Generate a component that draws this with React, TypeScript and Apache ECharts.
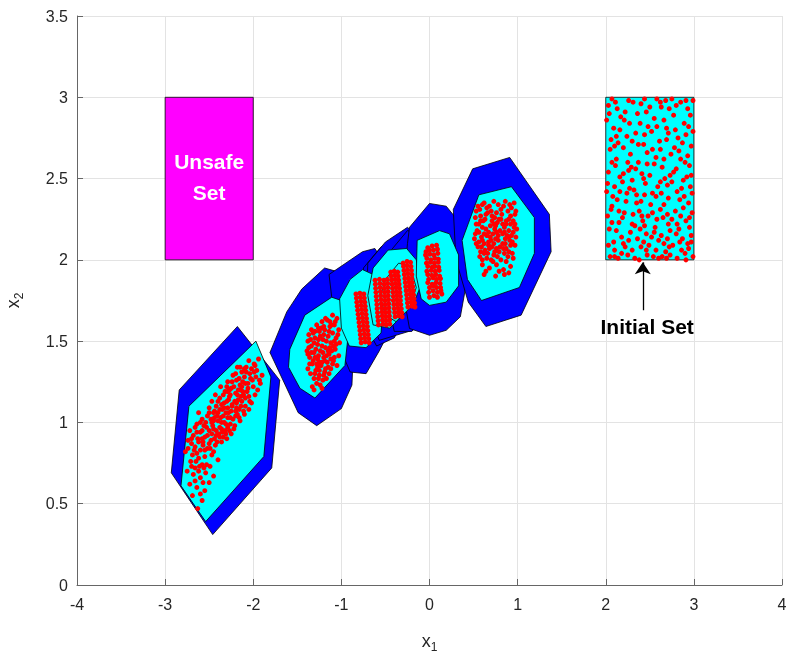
import React, { useEffect, useRef } from 'react';
import * as echarts from 'echarts';

// Sets (polygon vertices in data units)
const unsafeSet = [[-3, 2], [-2, 2], [-2, 3], [-3, 3]];
const initialSet = [[2, 2], [3, 2], [3, 3], [2, 3]];

const outerSets = [
  [[-2.18, 1.59], [-1.7, 1.26], [-1.79, 0.72], [-2.46, 0.31], [-2.93, 0.69], [-2.84, 1.2]],
  [[-1.45, 1.82], [-1.19, 1.95], [-1.0, 1.92], [-0.85, 1.62], [-0.88, 1.23], [-1.0, 1.085], [-1.28, 0.98], [-1.49, 1.06], [-1.81, 1.43], [-1.62, 1.68]],
  [[-1.14, 1.91], [-0.76, 2.05], [-0.62, 2.07], [-0.42, 1.9], [-0.4, 1.62], [-0.57, 1.44], [-0.72, 1.3], [-0.9, 1.31], [-1.05, 1.5]],
  [[-0.75, 1.95], [-0.55, 2.08], [-0.4, 2.1], [-0.25, 1.95], [-0.22, 1.7], [-0.4, 1.52], [-0.6, 1.47], [-0.75, 1.62]],
  [[-0.7, 1.98], [-0.5, 2.11], [-0.25, 2.2], [-0.05, 2.1], [0.02, 1.85], [-0.1, 1.62], [-0.19, 1.567], [-0.38, 1.536], [-0.57, 1.505], [-0.72, 1.7]],
  [[-0.45, 2.05], [-0.25, 2.18], [-0.05, 2.15], [0.05, 1.95], [0.0, 1.68], [-0.2, 1.56], [-0.4, 1.56], [-0.5, 1.8]],
  [[-0.25, 2.1], [-0.227, 2.2], [0.0, 2.347], [0.19, 2.33], [0.34, 2.23], [0.45, 1.95], [0.35, 1.65], [0.19, 1.567], [0.0, 1.536], [-0.227, 1.578], [-0.3, 1.8]],
  [[0.27, 2.31], [0.49, 2.56], [0.91, 2.63], [1.36, 2.28], [1.38, 2.05], [1.04, 1.66], [0.64, 1.59], [0.44, 1.74], [0.3, 2.0]],
];

const innerSets = [
  [[-1.97, 1.5], [-1.8, 1.28], [-1.88, 0.79], [-2.54, 0.39], [-2.82, 0.61], [-2.73, 1.1]],
  [[-1.415, 1.66], [-1.11, 1.77], [-1.0, 1.75], [-0.92, 1.55], [-0.96, 1.35], [-1.3, 1.15], [-1.47, 1.21], [-1.6, 1.34], [-1.585, 1.45]],
  [[-1.02, 1.76], [-0.9, 1.88], [-0.76, 1.94], [-0.6, 1.9], [-0.52, 1.75], [-0.55, 1.55], [-0.72, 1.46], [-0.91, 1.47], [-1.0, 1.58]],
  [[-0.64, 1.95], [-0.47, 2.06], [-0.26, 2.07], [-0.15, 2.0], [-0.1, 1.84], [-0.19, 1.72], [-0.45, 1.58], [-0.64, 1.6], [-0.7, 1.78]],
  [[-0.5, 1.88], [-0.35, 1.98], [-0.22, 1.96], [-0.15, 1.83], [-0.23, 1.7], [-0.38, 1.62], [-0.5, 1.66], [-0.56, 1.77]],
  [[-0.14, 2.12], [0.114, 2.18], [0.227, 2.16], [0.33, 2.03], [0.33, 1.84], [0.19, 1.74], [0.0, 1.72], [-0.094, 1.76], [-0.15, 1.9]],
  [[0.56, 2.4], [0.93, 2.45], [1.19, 2.26], [1.19, 2.04], [1.02, 1.83], [0.59, 1.75], [0.43, 1.88], [0.37, 2.12]],
];

// Sampled points
const initialSetPoints = [
  [2.03, 2.95], [2.17, 2.88], [2.31, 2.97], [2.46, 2.91], [2.58, 2.99], [2.72, 2.93], [2.85, 2.97], [2.96, 2.89], [2.09, 2.81], [2.24, 2.76],
  [2.39, 2.84], [2.52, 2.79], [2.66, 2.86], [2.79, 2.8], [2.91, 2.77], [2.05, 2.68], [2.14, 2.72], [2.28, 2.65], [2.43, 2.71], [2.57, 2.63],
  [2.69, 2.74], [2.83, 2.67], [2.97, 2.7], [2.11, 2.58], [2.26, 2.55], [2.37, 2.6], [2.5, 2.52], [2.64, 2.57], [2.77, 2.54], [2.9, 2.6],
  [2.02, 2.47], [2.16, 2.42], [2.3, 2.49], [2.44, 2.4], [2.59, 2.45], [2.71, 2.38], [2.86, 2.44], [2.98, 2.41], [2.07, 2.33], [2.21, 2.29],
  [2.35, 2.35], [2.48, 2.27], [2.62, 2.31], [2.75, 2.25], [2.88, 2.32], [2.04, 2.19], [2.18, 2.14], [2.33, 2.21], [2.46, 2.16], [2.6, 2.12],
  [2.73, 2.18], [2.87, 2.13], [2.95, 2.2], [2.1, 2.06], [2.25, 2.03], [2.4, 2.08], [2.54, 2.02], [2.68, 2.05], [2.81, 2.01], [2.94, 2.07],
  [2.01, 2.86], [2.13, 2.93], [2.27, 2.84], [2.4, 2.96], [2.55, 2.87], [2.63, 2.94], [2.77, 2.89], [2.89, 2.84], [2.99, 2.98], [2.06, 2.74],
  [2.2, 2.69], [2.34, 2.78], [2.47, 2.66], [2.61, 2.73], [2.74, 2.65], [2.82, 2.75], [2.93, 2.64], [2.12, 2.62], [2.29, 2.57], [2.41, 2.53],
  [2.55, 2.59], [2.67, 2.5], [2.8, 2.56], [2.92, 2.51], [2.03, 2.54], [2.19, 2.48], [2.32, 2.43], [2.45, 2.47], [2.57, 2.39], [2.7, 2.46],
  [2.84, 2.37], [2.96, 2.45], [2.08, 2.39], [2.23, 2.36], [2.38, 2.3], [2.51, 2.34], [2.65, 2.26], [2.79, 2.3], [2.91, 2.24], [2.02, 2.27],
  [2.15, 2.23], [2.28, 2.17], [2.42, 2.24], [2.56, 2.2], [2.7, 2.13], [2.83, 2.19], [2.97, 2.15], [2.09, 2.11], [2.22, 2.08], [2.36, 2.13],
  [2.49, 2.09], [2.63, 2.15], [2.76, 2.09], [2.9, 2.04], [2.05, 2.02], [2.18, 2.04], [2.33, 2.01], [2.47, 2.03], [2.6, 2.01], [2.73, 2.03],
  [2.86, 2.06], [2.99, 2.02], [2.11, 2.97], [2.36, 2.9], [2.5, 2.94], [2.68, 2.98], [2.8, 2.95], [2.93, 2.93], [2.04, 2.9], [2.22, 2.91],
  [2.16, 2.8], [2.3, 2.73], [2.44, 2.77], [2.58, 2.82], [2.71, 2.78], [2.87, 2.72], [2.99, 2.79], [2.1, 2.7], [2.25, 2.6], [2.53, 2.68],
  [2.66, 2.62], [2.78, 2.69], [2.95, 2.58], [2.07, 2.6], [2.16, 2.51], [2.34, 2.56], [2.47, 2.59], [2.62, 2.48], [2.73, 2.52], [2.88, 2.49],
  [2.01, 2.42], [2.13, 2.37], [2.27, 2.44], [2.4, 2.36], [2.53, 2.41], [2.66, 2.34], [2.81, 2.42], [2.94, 2.35], [2.06, 2.31], [2.19, 2.26],
  [2.31, 2.28], [2.44, 2.21], [2.58, 2.25], [2.71, 2.22], [2.85, 2.27], [2.98, 2.29], [2.12, 2.18], [2.26, 2.12], [2.39, 2.19], [2.52, 2.14],
  [2.66, 2.1], [2.8, 2.16], [2.93, 2.1], [2.03, 2.09], [2.14, 2.01], [2.3, 2.06], [2.43, 2.11], [2.57, 2.06], [2.69, 2.01], [2.84, 2.11],
  [2.07, 2.99], [2.26, 2.98], [2.44, 2.99], [2.62, 2.97], [2.75, 2.99], [2.91, 2.98], [2.21, 2.86], [2.48, 2.82], [2.69, 2.81], [2.94, 2.82],
  [2.12, 2.76], [2.37, 2.71], [2.62, 2.68], [2.85, 2.62], [2.2, 2.53], [2.43, 2.5], [2.75, 2.48], [2.97, 2.52], [2.1, 2.45], [2.35, 2.4],
  [2.63, 2.41], [2.89, 2.39], [2.15, 2.3], [2.41, 2.27], [2.7, 2.28], [2.95, 2.26], [2.07, 2.23], [2.3, 2.22], [2.55, 2.17], [2.81, 2.22],
  [2.2, 2.1], [2.46, 2.06], [2.72, 2.08], [2.97, 2.11], [2.1, 2.02], [2.38, 2.0], [2.64, 2.02], [2.91, 2.0], [2.53, 2.29], [2.24, 2.41],
];

const step1Points = [
  [0.55, 2.33], [0.62, 2.35], [0.7, 2.3], [0.78, 2.34], [0.86, 2.36], [0.93, 2.32], [0.58, 2.27], [0.66, 2.29], [0.74, 2.26], [0.82, 2.28],
  [0.9, 2.25], [0.97, 2.28], [0.53, 2.22], [0.61, 2.24], [0.69, 2.21], [0.77, 2.23], [0.85, 2.2], [0.92, 2.22], [0.99, 2.19], [0.56, 2.17],
  [0.64, 2.19], [0.72, 2.16], [0.8, 2.18], [0.88, 2.15], [0.95, 2.17], [0.51, 2.13], [0.59, 2.14], [0.67, 2.11], [0.75, 2.13], [0.83, 2.1],
  [0.91, 2.12], [0.97, 2.09], [0.55, 2.08], [0.63, 2.06], [0.71, 2.08], [0.79, 2.05], [0.87, 2.07], [0.94, 2.04], [0.57, 2.02], [0.65, 2.01],
  [0.73, 2.03], [0.81, 2.0], [0.89, 2.02], [0.6, 1.97], [0.68, 1.95], [0.76, 1.97], [0.84, 1.94], [0.92, 1.96], [0.62, 1.91], [0.75, 1.9],
  [0.85, 1.91], [0.57, 2.31], [0.68, 2.33], [0.81, 2.31], [0.89, 2.3], [0.63, 2.25], [0.71, 2.27], [0.87, 2.24], [0.95, 2.24], [0.6, 2.2],
  [0.74, 2.19], [0.83, 2.22], [0.93, 2.15], [0.54, 2.18], [0.69, 2.14], [0.78, 2.15], [0.86, 2.13], [0.62, 2.1], [0.7, 2.12], [0.8, 2.08],
  [0.92, 2.09], [0.58, 2.05], [0.76, 2.07], [0.85, 2.04], [0.95, 2.01], [0.66, 2.04], [0.72, 1.99], [0.87, 1.99], [0.64, 1.93], [0.79, 1.93],
  [0.9, 1.92], [0.52, 2.26], [0.76, 2.29], [0.96, 2.35], [0.65, 2.15], [0.9, 2.18], [0.68, 2.07], [0.83, 2.16], [0.6, 2.0], [0.73, 2.22],
  [0.6, 2.34], [0.73, 2.36], [0.91, 2.34], [0.64, 2.28], [0.79, 2.25], [0.92, 2.27], [0.56, 2.22], [0.71, 2.24], [0.87, 2.22], [0.97, 2.22],
  [0.62, 2.16], [0.76, 2.17], [0.9, 2.14], [0.56, 2.11], [0.73, 2.1], [0.86, 2.1], [0.62, 2.04], [0.77, 2.02], [0.9, 2.05], [0.7, 2.0],
  [0.53, 2.3], [0.65, 2.32], [0.84, 2.33], [0.98, 2.3], [0.58, 2.24], [0.75, 2.21], [0.81, 2.25], [0.96, 2.2], [0.52, 2.16], [0.67, 2.17],
  [0.85, 2.17], [0.98, 2.14], [0.6, 2.12], [0.78, 2.12], [0.94, 2.11], [0.53, 2.1], [0.67, 2.09], [0.84, 2.07], [0.74, 2.05], [0.59, 2.08],
];

const stripeAPoints = [
  [0.0, 1.77], [0.05, 1.78], [0.09, 1.77], [0.14, 1.79], [-0.01, 1.8], [0.04, 1.81], [0.09, 1.8], [0.13, 1.81],
  [0.0, 1.83], [0.045, 1.84], [0.08, 1.83], [0.125, 1.83], [-0.02, 1.86], [0.03, 1.85], [0.075, 1.86], [0.12, 1.855],
  [-0.01, 1.88], [0.04, 1.89], [0.08, 1.88], [0.125, 1.885], [-0.02, 1.91], [0.025, 1.905], [0.07, 1.91], [0.115, 1.9],
  [-0.03, 1.93], [0.02, 1.935], [0.065, 1.93], [0.11, 1.935], [-0.02, 1.96], [0.03, 1.955], [0.06, 1.96], [0.105, 1.955],
  [-0.035, 1.98], [0.01, 1.985], [0.055, 1.98], [0.1, 1.985], [-0.03, 2.01], [0.015, 2.0], [0.06, 2.01], [0.1, 2.005],
  [-0.045, 2.03], [0.005, 2.035], [0.05, 2.03], [0.095, 2.04], [-0.04, 2.05], [0.0, 2.06], [0.045, 2.06], [0.09, 2.065],
  [-0.02, 2.075], [0.03, 2.085], [0.08, 2.09],
];

const stripeBPoints = [
  [-0.245, 1.71], [-0.2, 1.715], [-0.165, 1.71], [-0.25, 1.735], [-0.21, 1.74], [-0.17, 1.735],
  [-0.255, 1.76], [-0.215, 1.765], [-0.175, 1.76], [-0.26, 1.785], [-0.22, 1.79], [-0.18, 1.785],
  [-0.265, 1.81], [-0.225, 1.815], [-0.185, 1.81], [-0.27, 1.835], [-0.23, 1.84], [-0.19, 1.835],
  [-0.275, 1.86], [-0.235, 1.865], [-0.195, 1.86], [-0.28, 1.885], [-0.24, 1.89], [-0.2, 1.885],
  [-0.285, 1.91], [-0.245, 1.915], [-0.2, 1.91], [-0.29, 1.935], [-0.25, 1.94], [-0.205, 1.935],
  [-0.295, 1.96], [-0.255, 1.965], [-0.21, 1.96], [-0.3, 1.98], [-0.255, 1.99], [-0.215, 1.985],
];

const stripeCPoints = [
  [-0.39, 1.65], [-0.35, 1.655], [-0.31, 1.65], [-0.395, 1.675], [-0.355, 1.68], [-0.315, 1.675],
  [-0.4, 1.7], [-0.36, 1.705], [-0.32, 1.7], [-0.405, 1.725], [-0.365, 1.73], [-0.325, 1.725],
  [-0.41, 1.75], [-0.37, 1.755], [-0.33, 1.75], [-0.41, 1.775], [-0.37, 1.78], [-0.33, 1.775],
  [-0.415, 1.8], [-0.375, 1.805], [-0.335, 1.8], [-0.42, 1.825], [-0.38, 1.83], [-0.34, 1.825],
  [-0.425, 1.85], [-0.385, 1.855], [-0.345, 1.85], [-0.43, 1.875], [-0.39, 1.88], [-0.35, 1.875],
  [-0.435, 1.9], [-0.395, 1.905], [-0.355, 1.9], [-0.44, 1.925], [-0.4, 1.93], [-0.36, 1.925],
];

const stripeDPoints = [
  [-0.49, 1.6], [-0.45, 1.605], [-0.493, 1.625], [-0.453, 1.63], [-0.495, 1.65], [-0.455, 1.655],
  [-0.498, 1.675], [-0.458, 1.68], [-0.5, 1.7], [-0.46, 1.705], [-0.503, 1.725], [-0.463, 1.73],
  [-0.505, 1.75], [-0.465, 1.755], [-0.508, 1.775], [-0.468, 1.78], [-0.51, 1.8], [-0.47, 1.805],
  [-0.513, 1.825], [-0.473, 1.83], [-0.515, 1.85], [-0.475, 1.855], [-0.518, 1.875], [-0.478, 1.88],
];

const stripeEPoints = [
  [-0.58, 1.6], [-0.53, 1.605], [-0.583, 1.625], [-0.533, 1.63], [-0.587, 1.65], [-0.537, 1.655],
  [-0.59, 1.675], [-0.54, 1.68], [-0.594, 1.7], [-0.544, 1.705], [-0.597, 1.725], [-0.547, 1.73],
  [-0.6, 1.75], [-0.55, 1.755], [-0.604, 1.775], [-0.554, 1.78], [-0.607, 1.8], [-0.557, 1.805],
  [-0.611, 1.825], [-0.561, 1.83], [-0.614, 1.85], [-0.564, 1.855], [-0.618, 1.875], [-0.568, 1.88],
];

const stripeFPoints = [
  [-0.775, 1.49], [-0.73, 1.495], [-0.685, 1.49], [-0.78, 1.515], [-0.735, 1.52], [-0.69, 1.515],
  [-0.785, 1.54], [-0.74, 1.545], [-0.695, 1.54], [-0.79, 1.565], [-0.745, 1.57], [-0.7, 1.565],
  [-0.795, 1.59], [-0.75, 1.595], [-0.705, 1.59], [-0.8, 1.615], [-0.755, 1.62], [-0.71, 1.615],
  [-0.805, 1.64], [-0.76, 1.645], [-0.715, 1.64], [-0.81, 1.665], [-0.765, 1.67], [-0.72, 1.665],
  [-0.815, 1.69], [-0.77, 1.695], [-0.725, 1.69], [-0.82, 1.715], [-0.775, 1.72], [-0.73, 1.715],
  [-0.825, 1.74], [-0.78, 1.745], [-0.735, 1.74], [-0.83, 1.765], [-0.785, 1.77], [-0.74, 1.765],
  [-0.835, 1.79], [-0.79, 1.795], [-0.745, 1.79],
];

const clusterAPoints = [
  [-1.1, 1.66], [-1.05, 1.64], [-1.16, 1.63], [-1.22, 1.62], [-1.08, 1.6], [-1.13, 1.59], [-1.28, 1.6], [-1.03, 1.57], [-1.19, 1.57], [-1.34, 1.57],
  [-1.25, 1.56], [-1.1, 1.55], [-1.37, 1.54], [-1.15, 1.53], [-1.06, 1.52], [-1.3, 1.52], [-1.21, 1.51], [-1.38, 1.5], [-1.02, 1.49], [-1.12, 1.49],
  [-1.27, 1.48], [-1.34, 1.47], [-1.18, 1.46], [-1.07, 1.45], [-1.24, 1.44], [-1.39, 1.44], [-1.31, 1.43], [-1.14, 1.42], [-1.03, 1.41], [-1.2, 1.4],
  [-1.36, 1.4], [-1.27, 1.39], [-1.09, 1.38], [-1.16, 1.37], [-1.33, 1.36], [-1.23, 1.35], [-1.05, 1.35], [-1.38, 1.33], [-1.12, 1.33], [-1.29, 1.32],
  [-1.19, 1.31], [-1.35, 1.3], [-1.25, 1.29], [-1.14, 1.3], [-1.31, 1.27], [-1.21, 1.26], [-1.28, 1.24], [-1.33, 1.22], [-1.24, 1.23], [-1.31, 1.2],
  [-1.13, 1.62], [-1.2, 1.59], [-1.32, 1.55], [-1.04, 1.54], [-1.24, 1.53], [-1.17, 1.5], [-1.35, 1.51], [-1.09, 1.47], [-1.29, 1.45], [-1.21, 1.43],
  [-1.37, 1.46], [-1.11, 1.44], [-1.26, 1.41], [-1.17, 1.41], [-1.32, 1.38], [-1.08, 1.4], [-1.22, 1.37], [-1.36, 1.36], [-1.15, 1.34], [-1.27, 1.34],
  [-1.18, 1.64], [-1.07, 1.62], [-1.26, 1.58], [-1.14, 1.56], [-1.31, 1.49], [-1.06, 1.48], [-1.22, 1.47], [-1.13, 1.46], [-1.38, 1.42], [-1.25, 1.37],
  [-1.12, 1.39], [-1.3, 1.3], [-1.18, 1.33], [-1.26, 1.27], [-1.22, 1.21],
  [-1.11, 1.6], [-1.23, 1.58], [-1.3, 1.56], [-1.2, 1.54], [-1.08, 1.5], [-1.26, 1.51], [-1.34, 1.43], [-1.15, 1.44], [-1.3, 1.4], [-1.19, 1.38],
  [-1.1, 1.36], [-1.28, 1.36], [-1.2, 1.29], [-1.17, 1.27], [-1.25, 1.32],
];

const lowerClusterPoints = [
  [-2.63, 0.47], [-2.58, 0.52], [-2.69, 0.55], [-2.55, 0.58],
  [-2.72, 0.62], [-2.64, 0.6], [-2.5, 0.63], [-2.6, 0.66], [-2.68, 0.68], [-2.54, 0.69], [-2.45, 0.67], [-2.75, 0.7],
  [-2.66, 0.72], [-2.58, 0.74], [-2.71, 0.76], [-2.49, 0.73], [-2.62, 0.78], [-2.4, 0.77], [-2.55, 0.79], [-2.69, 0.8], [-2.47, 0.8],
  [-2.77, 0.82], [-2.6, 0.83], [-2.52, 0.84], [-2.66, 0.85], [-2.43, 0.86], [-2.7, 0.87], [-2.57, 0.88], [-2.36, 0.88], [-2.48, 0.89], [-2.63, 0.9], [-2.74, 0.89], [-2.3, 0.9],
  [-2.55, 0.91], [-2.42, 0.92], [-2.68, 0.92], [-2.35, 0.94], [-2.6, 0.94], [-2.5, 0.95], [-2.27, 0.95], [-2.45, 0.96], [-2.72, 0.95], [-2.38, 0.97], [-2.56, 0.98], [-2.21, 0.98], [-2.64, 0.99], [-2.31, 0.99], [-2.47, 1.0],
  [-2.15, 1.01], [-2.4, 1.01], [-2.58, 1.02], [-2.26, 1.03], [-2.52, 1.04], [-2.34, 1.04], [-2.1, 1.05], [-2.45, 1.06], [-2.62, 1.06], [-2.2, 1.07], [-2.38, 1.08], [-2.05, 1.08], [-2.29, 1.09], [-2.5, 1.09], [-2.14, 1.1], [-2.42, 1.1],
  [-2.24, 1.11], [-2.33, 1.12], [-2.02, 1.12], [-2.47, 1.13], [-2.17, 1.14], [-2.38, 1.15], [-2.09, 1.15], [-2.27, 1.16], [-1.98, 1.17], [-2.43, 1.17], [-2.2, 1.18], [-2.12, 1.19], [-2.32, 1.19], [-1.95, 1.2],
  [-2.25, 1.21], [-2.06, 1.21], [-2.37, 1.22], [-2.15, 1.23], [-1.92, 1.24], [-2.29, 1.25], [-2.01, 1.26], [-2.19, 1.26], [-2.1, 1.28], [-1.9, 1.29], [-2.23, 1.29], [-2.04, 1.3],
  [-2.13, 1.31], [-1.96, 1.32], [-2.08, 1.34], [-2.18, 1.34], [-1.99, 1.36], [-2.05, 1.38], [-1.94, 1.39],
  [-2.44, 0.9], [-2.33, 1.0], [-2.28, 1.06], [-2.19, 1.12], [-2.36, 0.96], [-2.41, 1.04], [-2.52, 0.92], [-2.3, 1.13], [-2.14, 1.16], [-2.22, 1.22],
  [-2.5, 0.87], [-2.58, 0.95], [-2.62, 0.88], [-2.65, 0.76], [-2.53, 0.74], [-2.66, 0.64], [-2.6, 0.56], [-2.48, 1.02], [-2.35, 1.08], [-2.09, 1.24],
  [-2.26, 1.17], [-2.11, 1.07], [-2.05, 1.16], [-2.16, 1.27], [-2.02, 1.33],
  [-2.39, 0.93], [-2.29, 0.97], [-2.46, 0.98], [-2.23, 1.02], [-2.37, 1.03], [-2.18, 1.05], [-2.31, 1.06], [-2.44, 1.07], [-2.24, 1.1], [-2.13, 1.13],
  [-2.36, 1.11], [-2.28, 1.14], [-2.07, 1.19], [-2.17, 1.2], [-2.3, 1.22], [-2.12, 1.25], [-2.03, 1.27], [-2.2, 1.3], [-2.08, 1.31], [-1.97, 1.28],
  [-2.55, 0.83], [-2.45, 0.82], [-2.66, 0.97], [-2.54, 1.0], [-2.58, 0.9], [-2.67, 0.83], [-2.74, 0.84], [-2.62, 0.7], [-2.57, 0.63], [-2.7, 0.73],
  [-2.34, 0.91], [-2.41, 0.88], [-2.25, 0.93], [-2.19, 1.09], [-2.5, 1.06], [-2.4, 1.13], [-2.0, 1.22], [-2.15, 1.34], [-1.98, 1.35], [-2.34, 1.17],
  [-2.42, 0.95], [-2.32, 0.95], [-2.26, 0.99], [-2.36, 1.0], [-2.44, 1.03], [-2.2, 1.04], [-2.29, 1.03], [-2.16, 1.08], [-2.25, 1.07], [-2.33, 1.09],
  [-2.4, 1.06], [-2.21, 1.13], [-2.11, 1.17], [-2.18, 1.17], [-2.29, 1.19], [-2.24, 1.25], [-2.15, 1.2], [-2.06, 1.24], [-2.13, 1.22], [-1.99, 1.31],
  [-2.47, 0.93], [-2.53, 0.97], [-2.49, 0.84], [-2.57, 0.86], [-2.64, 0.94], [-2.6, 1.0], [-2.7, 0.9], [-2.64, 0.81], [-2.56, 0.72], [-2.61, 0.73],
  [-2.45, 1.01], [-2.38, 0.91], [-2.31, 0.93], [-2.22, 0.96], [-2.16, 1.03], [-2.09, 1.1], [-2.04, 1.13], [-2.27, 1.2], [-2.1, 1.33], [-1.93, 1.26],
];

// Annotations
const unsafeLabel = { text: 'Unsafe\nSet', at: [-2.5, 2.51] };
const initialLabel = { text: 'Initial Set', at: [2.47, 1.59] };
const arrowFrom = [2.42, 1.69];
const arrowTo = [2.42, 1.985];

const FONT = '"Liberation Sans", Arial, Helvetica, sans-serif';

function polygonSeries(name: string, polys: number[][][], fill: string, z: number) {
  return {
    type: 'custom',
    name,
    coordinateSystem: 'cartesian2d',
    z,
    silent: true,
    data: polys.map((p) => p[0]),
    renderItem: (params: any, api: any) => ({
      type: 'polygon',
      shape: { points: polys[params.dataIndex].map((v) => api.coord(v)) },
      style: { fill, stroke: '#000', lineWidth: 0.8 },
    }),
  };
}

export default function App() {
  const ref = useRef<HTMLDivElement>(null);
  useEffect(() => {
    const chart = echarts.init(ref.current!, null, { renderer: 'svg' });
    const allPoints = [
      ...initialSetPoints, ...step1Points, ...stripeAPoints, ...stripeBPoints, ...stripeCPoints,
      ...stripeDPoints, ...stripeEPoints, ...stripeFPoints, ...clusterAPoints, ...lowerClusterPoints,
    ];
    const nameStyle = {
      rich: {
        a: { fontSize: 18, fontFamily: FONT, color: '#262626' },
        b: { fontSize: 12, fontFamily: FONT, color: '#262626', padding: [12, 0, 0, 0] },
      },
    };
    chart.setOption({
      animation: false,
      grid: { left: 77, right: 4, top: 16, bottom: 68, containLabel: false, outerBoundsMode: 'none' },
      xAxis: {
        type: 'value', min: -4, max: 4, interval: 1,
        name: '{a|x}{b|1}', nameLocation: 'middle', nameGap: 44,
        nameTextStyle: nameStyle,
        axisLine: { show: true, onZero: false, lineStyle: { color: '#666', width: 1 } },
        axisTick: { show: true, inside: true, length: 6, lineStyle: { color: '#666' } },
        axisLabel: { fontSize: 16, color: '#262626', fontFamily: FONT, margin: 11 },
        splitLine: { show: true, lineStyle: { color: '#e3e3e3', width: 1 } },
      },
      yAxis: {
        type: 'value', min: 0, max: 3.5, interval: 0.5,
        name: '{a|x}{b|2}', nameLocation: 'middle', nameGap: 52, nameRotate: 90,
        nameTextStyle: nameStyle,
        axisLine: { show: true, onZero: false, lineStyle: { color: '#666', width: 1 } },
        axisTick: { show: true, inside: true, length: 6, lineStyle: { color: '#666' } },
        axisLabel: { fontSize: 16, color: '#262626', fontFamily: FONT, margin: 9 },
        splitLine: { show: true, lineStyle: { color: '#e3e3e3', width: 1 } },
      },
      series: [
        polygonSeries('outer', outerSets, '#0000ff', 2),
        polygonSeries('inner', innerSets, '#00ffff', 3),
        polygonSeries('unsafe', [unsafeSet], '#ff00ff', 3),
        polygonSeries('initial', [initialSet], '#00ffff', 3),
        {
          type: 'scatter', name: 'samples', z: 4, silent: true,
          symbol: 'circle', symbolSize: 5,
          itemStyle: { color: '#ff0000', opacity: 1 },
          data: allPoints,
        },
        {
          type: 'scatter', name: 'labels', z: 5, silent: true,
          symbolSize: 0,
          itemStyle: { opacity: 1 },
          data: [
            { value: unsafeLabel.at, label: { formatter: unsafeLabel.text, color: '#ffffff' } },
            { value: initialLabel.at, label: { formatter: initialLabel.text, color: '#000000' } },
          ],
          label: {
            show: true, position: 'inside', fontSize: 21, fontWeight: 'bold', fontFamily: FONT, lineHeight: 31,
          },
          markLine: {
            silent: true, animation: false,
            symbol: ['none', 'arrow'], symbolSize: 12,
            lineStyle: { color: '#000', width: 1.3, type: 'solid' },
            label: { show: false },
            data: [[{ coord: arrowFrom }, { coord: arrowTo }]],
          },
        },
      ],
    });
    return () => chart.dispose();
  }, []);
  return <div ref={ref} style={{ position: 'fixed', left: 0, top: 0, width: 786, height: 653 }} />;
}
